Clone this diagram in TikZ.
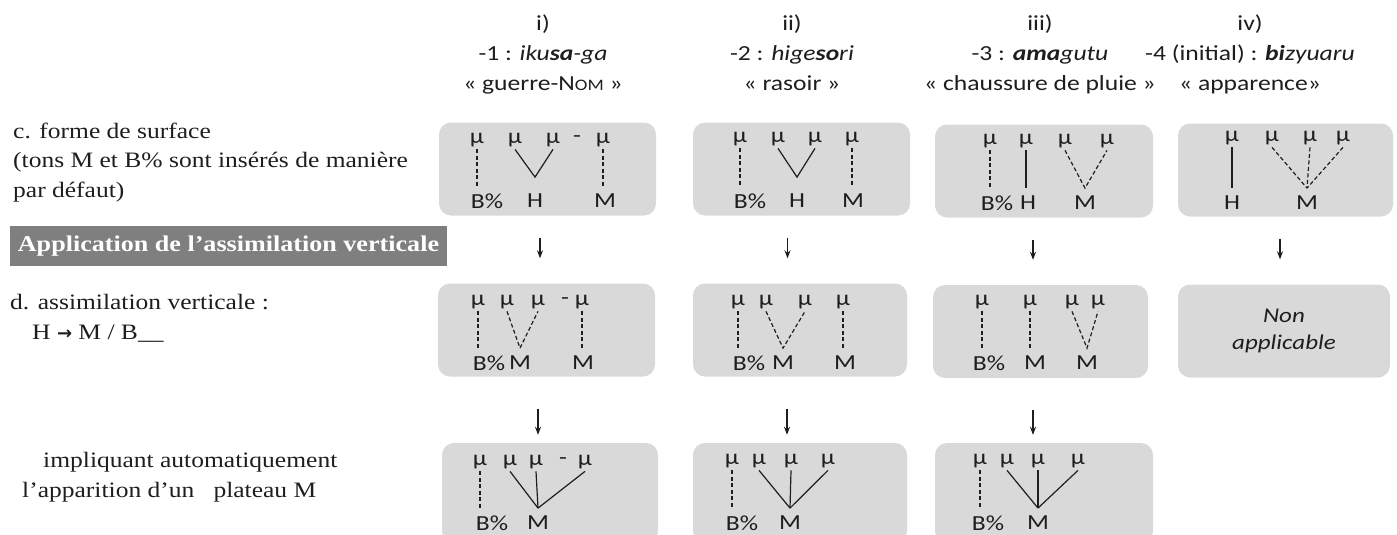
\documentclass[tikz,border=0pt]{standalone}
\usepackage{fontspec}
\setmainfont[FakeStretch=1.16]{Liberation Serif}
\newfontfamily\calibri[FakeStretch=1.19]{Carlito}
\newfontfamily\dejavu{DejaVu Sans}
\usetikzlibrary{arrows.meta, positioning}
\definecolor{boxgray}{RGB}{217,217,217}
\definecolor{bargray}{RGB}{127,127,127}
\definecolor{ink}{RGB}{30,30,30}

\begin{document}
\begin{tikzpicture}[
  x=1pt, y=-1pt,
  gbox/.style={rectangle, rounded corners=12pt, fill=boxgray, minimum width=217pt, minimum height=93pt, inner sep=0pt},
  sym/.style={font=\calibri\fontsize{21.5}{21.5}\selectfont, inner sep=1pt, outer sep=1.5pt, text=ink},
  tone/.style={sym, outer sep=7pt},
  sol/.style={line width=1.2pt, draw=ink},
  dsh/.style={line width=1.2pt, draw=ink, dash pattern=on 4pt off 2.5pt},
  arrow/.style={-{Stealth[length=8pt, width=6pt]}, line width=1.2pt, draw=ink},
  lab/.style={font=\fontsize{22}{29.5}\selectfont, align=left, inner sep=0pt, anchor=base west, text=ink},
  head/.style={font=\calibri\fontsize{21.5}{30}\selectfont, align=center, inner sep=0pt, anchor=base, text=ink}
]
  \useasboundingbox (0,0) rectangle (1397,535);

  % column headings
  \node[head] (h1) at (543,90) {i)\\-1 : \textit{iku\textbf{sa}-ga}\\« guerre-N{\fontsize{16}{16}\selectfont OM} »};
  \node[head] (h2) at (792,90) {ii)\\-2 : \textit{hige\textbf{so}ri}\\« rasoir »};
  \node[head] (h3) at (1040,90) {iii)\\-3 : \textit{\textbf{ama}gutu}\\« chaussure de pluie »};
  \node[head] (h4) at (1250,90) {iv)\\-4 (initial) : \textit{\textbf{bi}zyuaru}\\« apparence»};

  % row labels
  \node[lab] (lc) at (13,197) {c. forme de surface\\(tons M et B\% sont insérés de manière\\par défaut)};
  \node[rectangle, fill=bargray, minimum width=437pt, minimum height=40pt, inner sep=0pt,
        font=\fontsize{22.5}{22.5}\selectfont\bfseries, text=white] (bar) at (228.5,246) {Application de l’assimilation verticale};
  \node[lab] (ld) at (10,339) {d. assimilation verticale :\\\hspace*{22pt}H {\dejavu\bfseries\fontsize{18}{18}\selectfont →} M / B\_\_};
  \node[lab] (le) at (22,497) {\hspace*{21pt}impliquant automatiquement\\l’apparition d’un \ \ plateau M};

  % row c : surface form
  \node[gbox] (c1) at (547.5,169) {};
  \node[sym] (c1m1) at (477,140) {μ};
  \node[sym] (c1m2) at (515,140) {μ};
  \node[sym] (c1m3) at (553,140) {μ};
  \node[sym] (c1hy) at (577,139) {-};
  \node[sym] (c1m4) at (603,140) {μ};
  \node[tone] (c1B) at (487,201) {B\%};
  \node[tone] (c1H) at (535,201) {H};
  \node[tone] (c1M) at (605,201) {M};
  \draw[dsh] (c1m1.south) -- (c1m1.south |- c1B.north);
  \draw[sol] (c1m2.south) -- ([yshift=9pt]c1H.north) -- (c1m3.south);
  \draw[dsh] (c1m4.south) -- (c1m4.south |- c1M.north);

  \node[gbox] (c2) at (801.5,169) {};
  \node[sym] (c2m1) at (740,139) {μ};
  \node[sym] (c2m2) at (778,139) {μ};
  \node[sym] (c2m3) at (815,139) {μ};
  \node[sym] (c2m4) at (852,139) {μ};
  \node[tone] (c2B) at (750,201) {B\%};
  \node[tone] (c2H) at (797,201) {H};
  \node[tone] (c2M) at (853,201) {M};
  \draw[dsh] (c2m1.south) -- (c2m1.south |- c2B.north);
  \draw[sol] (c2m2.south) -- ([yshift=9pt]c2H.north) -- (c2m3.south);
  \draw[dsh] (c2m4.south) -- (c2m4.south |- c2M.north);

  \node[gbox, minimum width=218pt] (c3) at (1044,171) {};
  \node[sym] (c3m1) at (990,141) {μ};
  \node[sym] (c3m2) at (1026,141) {μ};
  \node[sym] (c3m3) at (1065,141) {μ};
  \node[sym] (c3m4) at (1107,141) {μ};
  \node[tone] (c3B) at (997,203) {B\%};
  \node[tone] (c3H) at (1028,203) {H};
  \node[tone] (c3M) at (1085,203) {M};
  \draw[dsh] (c3m1.south) -- (c3m1.south |- c3B.north);
  \draw[sol] (c3m2.south) -- (c3m2.south |- c3H.north);
  \draw[dsh] (c3m3.south) -- (c3M.north) -- (c3m4.south);

  \node[gbox, minimum width=215pt] (c4) at (1285.5,170) {};
  \node[sym] (c4m1) at (1232,138) {μ};
  \node[sym] (c4m2) at (1272,138) {μ};
  \node[sym] (c4m3) at (1310,138) {μ};
  \node[sym] (c4m4) at (1343,138) {μ};
  \node[tone] (c4H) at (1232,203) {H};
  \node[tone] (c4M) at (1307,203) {M};
  \draw[sol] (c4m1.south) -- (c4m1.south |- c4H.north);
  \foreach \m in {2,3,4}
    \draw[dsh] (c4m\m.south) -- (c4M.north);

  % row d : vertical assimilation
  \node[gbox] (d1) at (546.5,330) {};
  \node[sym] (d1m1) at (478,302) {μ};
  \node[sym] (d1m2) at (507,302) {μ};
  \node[sym] (d1m3) at (538,302) {μ};
  \node[sym] (d1hy) at (565,301) {-};
  \node[sym] (d1m4) at (582,302) {μ};
  \node[tone] (d1B) at (489,363) {B\%};
  \node[tone] (d1M) at (520,363) {M};
  \node[tone] (d1N) at (583,363) {M};
  \draw[dsh] (d1m1.south) -- (d1m1.south |- d1B.north);
  \draw[dsh] (d1m2.south) -- (d1M.north) -- (d1m3.south);
  \draw[dsh] (d1m4.south) -- (d1m4.south |- d1N.north);

  \node[gbox, minimum width=214pt] (d2) at (800,330) {};
  \node[sym] (d2m1) at (738,302) {μ};
  \node[sym] (d2m2) at (766,302) {μ};
  \node[sym] (d2m3) at (805,302) {μ};
  \node[sym] (d2m4) at (843,302) {μ};
  \node[tone] (d2B) at (749,363) {B\%};
  \node[tone] (d2M) at (783,363) {M};
  \node[tone] (d2N) at (845,363) {M};
  \draw[dsh] (d2m1.south) -- (d2m1.south |- d2B.north);
  \draw[dsh] (d2m2.south) -- (d2M.north) -- (d2m3.south);
  \draw[dsh] (d2m4.south) -- (d2m4.south |- d2N.north);

  \node[gbox, minimum width=215pt] (d3) at (1040.5,331.5) {};
  \node[sym] (d3m1) at (982,302) {μ};
  \node[sym] (d3m2) at (1030,302) {μ};
  \node[sym] (d3m3) at (1072,302) {μ};
  \node[sym] (d3m4) at (1098,302) {μ};
  \node[tone] (d3B) at (989,363) {B\%};
  \node[tone] (d3M) at (1035,363) {M};
  \node[tone] (d3N) at (1087,363) {M};
  \draw[dsh] (d3m1.south) -- (d3m1.south |- d3B.north);
  \draw[dsh] (d3m2.south) -- (d3m2.south |- d3M.north);
  \draw[dsh] (d3m3.south) -- (d3N.north) -- (d3m4.south);

  \node[gbox, minimum width=212pt] (d4) at (1284,331) {};
  \node[font=\calibri\itshape\fontsize{21}{27}\selectfont, align=center, text=ink] (d4t) at (d4) {Non\\applicable};

  % row e : resulting M plateau
  \node[gbox, minimum width=216pt, minimum height=100pt] (e1) at (550,493) {};
  \node[sym] (e1m1) at (480,462) {μ};
  \node[sym] (e1m2) at (510,462) {μ};
  \node[sym] (e1m3) at (536,462) {μ};
  \node[sym] (e1hy) at (563,461) {-};
  \node[sym] (e1m4) at (585,462) {μ};
  \node[tone] (e1B) at (492,523) {B\%};
  \node[tone] (e1M) at (538,523) {M};
  \draw[dsh] (e1m1.south) -- (e1m1.south |- e1B.north);
  \foreach \m in {2,3,4}
    \draw[sol] (e1m\m.south) -- (e1M.north);

  \node[gbox, minimum width=214pt, minimum height=100pt] (e2) at (800,493) {};
  \node[sym] (e2m1) at (732,461) {μ};
  \node[sym] (e2m2) at (759,461) {μ};
  \node[sym] (e2m3) at (791,461) {μ};
  \node[sym] (e2m4) at (828,461) {μ};
  \node[tone] (e2B) at (742,523) {B\%};
  \node[tone] (e2M) at (790,523) {M};
  \draw[dsh] (e2m1.south) -- (e2m1.south |- e2B.north);
  \foreach \m in {2,3,4}
    \draw[sol] (e2m\m.south) -- (e2M.north);

  \node[gbox, minimum width=218pt, minimum height=100pt] (e3) at (1044,493) {};
  \node[sym] (e3m1) at (980,461) {μ};
  \node[sym] (e3m2) at (1007,461) {μ};
  \node[sym] (e3m3) at (1038,461) {μ};
  \node[sym] (e3m4) at (1078,461) {μ};
  \node[tone] (e3B) at (988,523) {B\%};
  \node[tone] (e3M) at (1038,523) {M};
  \draw[dsh] (e3m1.south) -- (e3m1.south |- e3B.north);
  \foreach \m in {2,3,4}
    \draw[sol] (e3m\m.south) -- (e3M.north);

  % arrows between the rows
  \foreach \i/\dx in {1/-7.5,2/-14,3/-11,4/-5.5}
    \draw[arrow, shorten <=22pt, shorten >=25pt] ([xshift=\dx pt]c\i.south) -- ([xshift=\dx pt]c\i.south |- d\i.north);
  \foreach \i/\dx in {1/-8.5,2/-13,3/-7.5}
    \draw[arrow, shorten <=32pt, shorten >=8pt] ([xshift=\dx pt]d\i.south) -- ([xshift=\dx pt]d\i.south |- e\i.north);
\end{tikzpicture}
\end{document}
